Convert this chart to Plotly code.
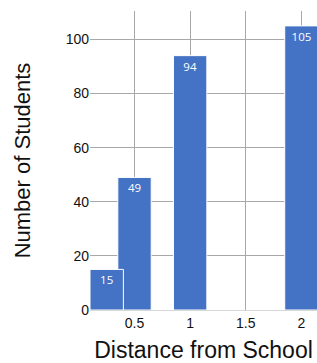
import plotly.graph_objects as go

distance = [0.25, 0.5, 1, 2]
students = [15, 49, 94, 105]
x_ticks = [0.5, 1, 1.5, 2]
y_ticks = [0, 20, 40, 60, 80, 100]

# draw taller bars first so the small bar sits on top where they overlap
order = sorted(range(len(students)), key=lambda i: -students[i])
xs = [distance[i] for i in order]
ys = [students[i] for i in order]

fig = go.Figure(go.Bar(
    x=xs, y=ys, width=0.3,
    marker=dict(color="#4472C4", line=dict(color="white", width=1)),
    text=[str(v) for v in ys], textposition="inside", insidetextanchor="end",
    textfont=dict(color="white", size=11.5, family="Open Sans"),
    textangle=0, cliponaxis=False,
))

fig.update_layout(
    width=317, height=363,
    margin=dict(l=90, r=0, t=11, b=53),
    plot_bgcolor="white", paper_bgcolor="white",
    showlegend=False,
    font=dict(family="Liberation Sans, Arial", color="#111"),
)
fig.update_xaxes(
    range=[0.1, 2.14], tickvals=x_ticks, ticktext=[str(t) for t in x_ticks],
    showgrid=True, gridcolor="#a8a8a8", gridwidth=1.3, zeroline=False,
    showline=False, ticks="", tickfont=dict(size=14, color="#111"),
    ticklabelstandoff=3,
    title=dict(text="Distance from School", font=dict(size=23, color="#111"), standoff=14),
)
fig.update_yaxes(
    range=[0, 110.5], tickvals=y_ticks, ticktext=[str(t) for t in y_ticks],
    showgrid=True, gridcolor="#a8a8a8", gridwidth=1.3, zeroline=True,
    zerolinecolor="#d8d8d8", zerolinewidth=1,
    showline=False, ticks="", tickfont=dict(size=14, color="#111"),
    ticklabelstandoff=0,
    title=dict(text="Number of Students", font=dict(size=22, color="#111"), standoff=28),
)

fig.write_html(
    "out.html",
    config={"displayModeBar": False},
    post_script="document.body.style.margin='0';document.body.style.overflow='hidden';",
)
